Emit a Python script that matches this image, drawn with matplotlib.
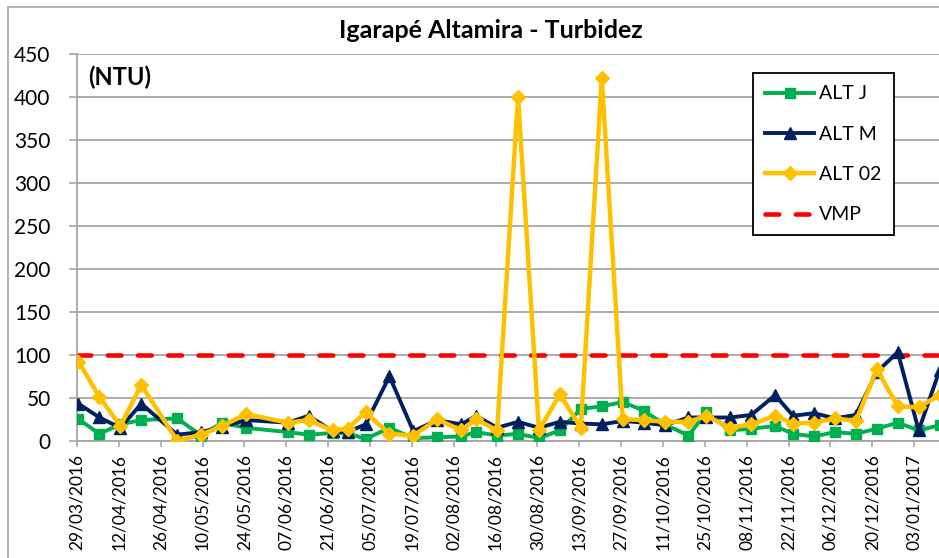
import matplotlib
matplotlib.use("Agg")
import matplotlib.pyplot as plt
from matplotlib.patches import Rectangle
import pandas as pd

plt.rcParams['font.family'] = ['Lato', 'DejaVu Sans']

# ---------------- data ----------------
dates = ["29/03/2016", "05/04/2016", "12/04/2016", "19/04/2016", "01/05/2016",
         "09/05/2016", "16/05/2016", "24/05/2016", "07/06/2016", "14/06/2016",
         "22/06/2016", "27/06/2016", "03/07/2016", "11/07/2016", "19/07/2016",
         "27/07/2016", "04/08/2016", "09/08/2016", "16/08/2016", "23/08/2016",
         "30/08/2016", "06/09/2016", "13/09/2016", "20/09/2016", "27/09/2016",
         "04/10/2016", "11/10/2016", "19/10/2016", "25/10/2016", "02/11/2016",
         "09/11/2016", "17/11/2016", "23/11/2016", "30/11/2016", "07/12/2016",
         "14/12/2016", "21/12/2016", "28/12/2016", "04/01/2017", "11/01/2017"]

alt_j = [25, 8, 19, 24, 26, 6, 21, 15, 10, 7, 9, 9, 2, 15, 3, 4, 5, 10, 6, 8,
         3, 12, 37, 40, 45, 35, 19, 6, 33, 12, 14, 17, 8, 5, 10, 8, 14, 21, 12, 18]
alt_m = [43, 27, 15, 43, 7, 10, 16, 24, 21, 29, 11, 10, 19, 75, 11, 24, 19, 29, 15, 22,
         15, 22, 20, 19, 23, 21, 18, 27, 27, 27, 30, 53, 29, 32, 26, 30, 80, 103, 12, 82]
alt_02 = [92, 51, 17, 65, 0, 7, 17, 31, 21, 24, 12, 14, 33, 8, 6, 25, 12, 25, 12, 400,
          12, 54, 15, 422, 25, 24, 22, 22, 29, 15, 19, 29, 20, 21, 26, 23, 83, 40, 39, 53]
vmp = 100

tick_dates = ["29/03/2016", "12/04/2016", "26/04/2016", "10/05/2016", "24/05/2016",
              "07/06/2016", "21/06/2016", "05/07/2016", "19/07/2016", "02/08/2016",
              "16/08/2016", "30/08/2016", "13/09/2016", "27/09/2016", "11/10/2016",
              "25/10/2016", "08/11/2016", "22/11/2016", "06/12/2016", "20/12/2016",
              "03/01/2017"]

title = "Igarapé Altamira - Turbidez"
unit_label = "(NTU)"

# ---------------- figure ----------------
W, H = 939, 558
fig = plt.figure(figsize=(W / 100, H / 100), dpi=100)

# outer chart border
fig.patches.append(Rectangle((8 / W, -0.2), 2.0, 1.2 - 7 / H, transform=fig.transFigure,
                             fill=False, edgecolor="#A6A6A6", linewidth=1.2, zorder=0))

px_per_day = 2.99
x_left, x_right = 77, 960
y_top, y_bot = 54, 440.7
ax = fig.add_axes([x_left / W, (H - y_bot) / H, (x_right - x_left) / W, (y_bot - y_top) / H])

x = pd.to_datetime(dates, format="%d/%m/%Y")
tk = pd.to_datetime(tick_dates, format="%d/%m/%Y")
x0 = x[0] - pd.Timedelta(hours=12)
ax.set_xlim(x0, x0 + pd.Timedelta(days=(x_right - x_left) / px_per_day))
ax.set_ylim(0, 450)

ax.axhline(vmp, color="#FF0000", lw=3.3, dashes=(3.0, 3.6), dash_capstyle="round",
           zorder=2, label="VMP")
ax.plot(x, alt_j, color="#00B050", lw=2.8, marker="s", ms=7.5, zorder=3, label="ALT J")
ax.plot(x, alt_m, color="#002060", lw=2.8, marker="^", ms=8.5, zorder=4, label="ALT M")
ax.plot(x, alt_02, color="#FFC000", lw=3.2, marker="D", ms=7, zorder=5, label="ALT 02")

ax.set_yticks(range(0, 451, 50))
ax.yaxis.grid(True, color="#A6A6A6", lw=1.3, zorder=0)
ax.set_axisbelow(True)
ax.set_xticks(tk - pd.Timedelta(hours=12))
ax.set_xticklabels(tick_dates, rotation=90, fontsize=12.5)
ax.tick_params(axis="y", labelsize=15, length=6, width=1.2, color="#A6A6A6", pad=13)
ax.tick_params(axis="x", length=4.5, width=1.2, color="#A6A6A6", pad=5)
for s in ("top", "right"):
    ax.spines[s].set_visible(False)
for s in ("left", "bottom"):
    ax.spines[s].set_color("#A6A6A6")
    ax.spines[s].set_linewidth(1.3)

fig.text(491 / W, (H - 30) / H, title, ha="center", va="center",
         fontsize=18, fontweight="bold")
fig.text(88 / W, (H - 77) / H, unit_label, ha="left", va="center",
         fontsize=17, fontweight="bold")

h, l = ax.get_legend_handles_labels()
order = [1, 2, 3, 0]
leg = fig.legend([h[i] for i in order], [l[i] for i in order],
                 loc="upper left", bbox_to_anchor=(752.7 / W, (H - 73.3) / H),
                 frameon=True, fancybox=False, framealpha=1, edgecolor="black",
                 fontsize=14, handlelength=2.55, handletextpad=0.25,
                 labelspacing=1.2, borderpad=0.62, borderaxespad=0, numpoints=1)
leg.get_frame().set_linewidth(1.3)

fig.savefig("out.png", dpi=100)
